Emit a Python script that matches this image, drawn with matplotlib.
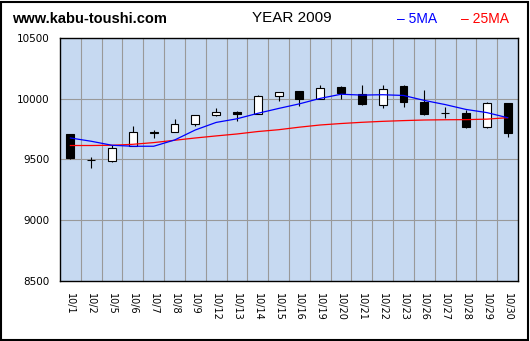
import numpy as np
import matplotlib.pyplot as plt
from matplotlib.patches import Rectangle

# -----------------------------
# Daily prices, October 2009
# -----------------------------

dates = ["10/1", "10/2", "10/5", "10/6", "10/7", "10/8", "10/9", "10/12",
         "10/13", "10/14", "10/15", "10/16", "10/19", "10/20", "10/21",
         "10/22", "10/23", "10/26", "10/27", "10/28", "10/29", "10/30"]

open_ = [9707, 9496, 9488, 9611, 9728, 9729, 9795, 9869, 9888, 9874, 10021,
         10060, 10000, 10093, 10043, 9951, 10101, 9970, 9882, 9882, 9767, 9961]
close = [9513, 9494, 9598, 9728, 9718, 9789, 9863, 9888, 9877, 10019, 10057,
         9994, 10090, 10046, 9959, 10082, 9972, 9874, 9880, 9767, 9961, 9718]
high = [9707, 9521, 9623, 9775, 9743, 9836, 9863, 9926, 9896, 10027, 10057,
        10060, 10117, 10103, 10117, 10109, 10109, 10076, 9935, 9910, 9970, 9961]
low = [9505, 9434, 9483, 9611, 9680, 9729, 9773, 9855, 9816, 9874, 9980,
       9939, 10000, 9997, 9945, 9923, 9931, 9863, 9841, 9759, 9759, 9685]

# moving averages
ma5 = [9677, 9650, 9617, 9609, 9609, 9660, 9743, 9805, 9835, 9880, 9920,
       9958, 10003, 10037, 10030, 10033, 10027, 9986, 9952, 9912, 9886, 9844]
ma25 = [9615, 9615, 9617, 9625, 9639, 9658, 9677, 9694, 9710, 9730, 9745,
        9766, 9784, 9796, 9806, 9814, 9820, 9825, 9827, 9828, 9832, 9844]

y_ticks = [8500, 9000, 9500, 10000, 10500]

# -----------------------------
# Figure and axes
# -----------------------------

fig = plt.figure(figsize=(5.30, 3.41), dpi=100)
fig.patches.append(Rectangle((0.002, 0.003), 0.994, 0.992, transform=fig.transFigure,
                             fill=False, edgecolor="black", linewidth=1.5))

ax = fig.add_axes([0.1132, 0.176, 0.8642, 0.7126])
ax.set_facecolor("#c6d9f1")

x = np.arange(len(dates))
ax.set_xlim(-0.5, len(dates) - 0.5)
ax.set_ylim(8500, 10500)

# grid: column separators and price levels
for k in range(1, len(dates)):
    ax.axvline(k - 0.5, color="#999999", linewidth=0.8, zorder=1)
for v in y_ticks[1:-1]:
    ax.axhline(v, color="#999999", linewidth=0.8, zorder=1)

# -----------------------------
# Candles
# -----------------------------

o = np.array(open_)
c = np.array(close)
up = c >= o

ax.vlines(x, low, high, color="black", linewidth=0.8, zorder=3)
ax.bar(x, np.abs(c - o), bottom=np.minimum(o, c), width=0.38,
       color=np.where(up, "white", "black"), edgecolor="black",
       linewidth=0.8, zorder=4)

# -----------------------------
# Moving averages
# -----------------------------

ax.plot(x, ma25, color="#ff0000", linewidth=0.9, zorder=5)
ax.plot(x, ma5, color="#0000ff", linewidth=0.9, zorder=5)

# -----------------------------
# Ticks and labels
# -----------------------------

ax.set_yticks(y_ticks)
ax.set_yticklabels([str(v) for v in y_ticks], fontsize=7.5)
ax.set_xticks(x)
ax.set_xticklabels(dates, rotation=-90, fontsize=7)
ax.tick_params(axis="y", length=0, pad=7.5)
ax.tick_params(axis="x", length=0, pad=9)

for side in ax.spines.values():
    side.set_color("black")
    side.set_linewidth(1.0)

fig.text(0.023, 0.945, "www.kabu-toushi.com", fontsize=10.5, fontweight="bold",
         family="Liberation Sans", va="center", ha="left")
fig.text(0.551, 0.947, "YEAR 2009", fontsize=11, family="Liberation Sans",
         va="center", ha="center")
fig.text(0.749, 0.945, "– 5MA", fontsize=10, color="#0000ff",
         family="Liberation Sans", va="center", ha="left")
fig.text(0.869, 0.945, "– 25MA", fontsize=10, color="#ff0000",
         family="Liberation Sans", va="center", ha="left")

plt.savefig("out.png", dpi=100)
